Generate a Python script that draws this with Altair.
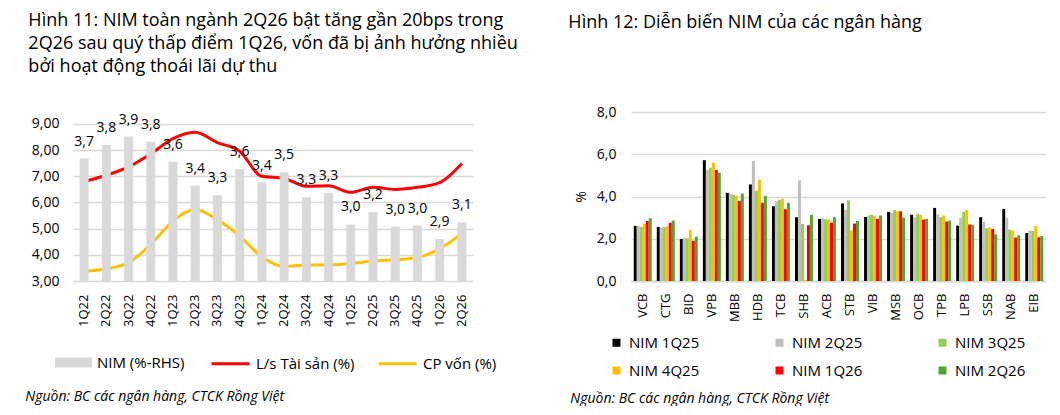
import altair as alt
import pandas as pd

FONT = "Open Sans"

# ---------- Left chart data (Hình 11) ----------
quarters = ["1Q22", "2Q22", "3Q22", "4Q22", "1Q23", "2Q23", "3Q23", "4Q23", "1Q24",
            "2Q24", "3Q24", "4Q24", "1Q25", "2Q25", "3Q25", "4Q25", "1Q26", "2Q26"]
nim_industry = [3.67, 3.80, 3.88, 3.83, 3.64, 3.41, 3.32, 3.57, 3.44,
                3.54, 3.30, 3.34, 3.04, 3.16, 3.02, 3.03, 2.90, 3.06]
asset_yield = [6.80, 7.04, 7.36, 7.86, 8.44, 8.68, 8.29, 7.96, 7.00,
               6.92, 6.62, 6.64, 6.39, 6.58, 6.50, 6.58, 6.76, 7.49]
cost_of_funds = [3.37, 3.47, 3.70, 4.40, 5.29, 5.73, 5.34, 4.72, 3.92,
                 3.56, 3.61, 3.62, 3.67, 3.76, 3.81, 3.90, 4.23, 4.82]
left_series = ["L/s Tài sản (%)", "CP vốn (%)"]
bar_label = "NIM (%-RHS)"

# ---------- Right chart data (Hình 12) ----------
banks = ["VCB", "CTG", "BID", "VPB", "MBB", "HDB", "TCB", "SHB", "ACB",
         "STB", "VIB", "MSB", "OCB", "TPB", "LPB", "SSB", "NAB", "EIB"]
series_names = ["NIM 1Q25", "NIM 2Q25", "NIM 3Q25", "NIM 4Q25", "NIM 1Q26", "NIM 2Q26"]
nim_1q25 = [2.61, 2.56, 1.99, 5.72, 4.17, 4.57, 3.54, 3.02, 2.94, 3.67, 3.03, 3.27, 3.14, 3.46, 2.62, 3.02, 3.41, 2.27]
nim_2q25 = [2.61, 2.53, 2.05, 5.26, 4.12, 5.69, 3.78, 4.77, 2.97, 3.36, 3.10, 3.24, 3.00, 3.16, 2.99, 2.81, 2.99, 2.39]
nim_3q25 = [2.56, 2.56, 2.02, 5.36, 4.08, 4.27, 3.84, 2.70, 2.92, 3.82, 3.14, 3.36, 3.18, 3.02, 3.27, 2.50, 2.43, 2.37]
nim_4q25 = [2.70, 2.59, 2.42, 5.61, 4.04, 4.79, 3.89, 0.05, 2.92, 2.40, 3.08, 3.30, 3.14, 3.10, 3.36, 2.54, 2.39, 2.61]
nim_1q26 = [2.84, 2.76, 1.90, 5.26, 3.79, 3.70, 3.40, 2.64, 2.76, 2.72, 2.94, 3.30, 2.91, 2.81, 2.67, 2.46, 2.05, 2.07]
nim_2q26 = [2.97, 2.86, 2.10, 5.12, 4.14, 4.03, 3.70, 3.13, 3.02, 2.84, 3.10, 3.00, 2.94, 2.86, 2.65, 2.21, 2.16, 2.13]
series_colors = ["#000000", "#BFBFBF", "#92D050", "#FFC000", "#FF0000", "#4EA72E"]

source_text = "Nguồn: BC các ngân hàng, CTCK Rồng Việt"
title_left = ["Hình 11: NIM toàn ngành 2Q26 bật tăng gần 20bps trong",
              "2Q26 sau quý thấp điểm 1Q26, vốn đã bị ảnh hưởng nhiều",
              "bởi hoạt động thoái lãi dự  thu"]
title_right = "Hình 12: Diễn biến NIM của các ngân hàng"

GRID = "#D9D9D9"

# ---------- Left chart ----------
left_df = pd.DataFrame({"q": quarters, "nim": nim_industry, "lbl": bar_label})
lines_df = pd.concat([
    pd.DataFrame({"q": quarters, "v": asset_yield, "s": left_series[0]}),
    pd.DataFrame({"q": quarters, "v": cost_of_funds, "s": left_series[1]}),
], ignore_index=True)

xq = alt.X("q:N", sort=quarters,
           scale=alt.Scale(paddingInner=0.6, paddingOuter=0.3),
           axis=alt.Axis(title=None, labelAngle=-90, labelFontSize=13, labelPadding=13,
                         ticks=False, domain=False, labelColor="#000", labelFont=FONT))

# plot area is 169 px tall; the top 12 px are left empty above the 9,00 / 4,00 line
yr_scale = alt.Scale(domain=[2.5, 4.1144], zero=False, nice=False)
yl_scale = alt.Scale(domain=[3, 9.458], zero=False, nice=False)

bars = alt.Chart(left_df).mark_bar(size=9).encode(
    x=xq,
    y=alt.Y("nim:Q", scale=yr_scale,
            axis=alt.Axis(orient="right", values=[2.5, 2.75, 3.0, 3.25, 3.5, 3.75, 4.0],
                          labelExpr="replace(format(datum.value, '.2f'), '.', ',')",
                          grid=False, ticks=False, domain=False, title=None,
                          labelFontSize=14, labelPadding=15, labelColor="#000", labelFont=FONT)),
    y2=alt.datum(2.5),
    fill=alt.Fill("lbl:N", scale=alt.Scale(domain=[bar_label], range=["#D9D9D9"]),
                  legend=alt.Legend(orient="none", legendX=-18, legendY=232, title=None,
                                    symbolType="M-1,-0.27H1V0.27H-1Z", symbolSize=1369,
                                    symbolStrokeWidth=0, labelFontSize=15, labelFont=FONT,
                                    labelColor="#000", labelOffset=5, padding=0)),
)

labels = alt.Chart(left_df).transform_calculate(
    t="replace(format(datum.nim, '.1f'), '.', ',')"
).mark_text(dy=-17, baseline="middle", align="center", fontSize=14, font=FONT, color="#000").encode(
    x=xq,
    y=alt.Y("nim:Q", scale=yr_scale, axis=None),
    text="t:N",
)

lines = alt.Chart(lines_df).mark_line(strokeWidth=3, interpolate="monotone").encode(
    x=xq,
    y=alt.Y("v:Q", scale=yl_scale,
            axis=alt.Axis(orient="left", values=[3, 4, 5, 6, 7, 8, 9],
                          labelExpr="replace(format(datum.value, '.2f'), '.', ',')",
                          grid=True, gridColor=GRID, gridWidth=1.3, ticks=False, domain=False,
                          title=None, labelFontSize=14, labelPadding=14, labelColor="#000",
                          labelFont=FONT)),
    stroke=alt.Stroke("s:N", sort=left_series,
                      scale=alt.Scale(domain=left_series, range=["#FF0000", "#FFC000"]),
                      legend=alt.Legend(orient="none", legendX=137, legendY=231, title=None,
                                        direction="horizontal", symbolType="stroke",
                                        symbolSize=1444, symbolStrokeWidth=3,
                                        labelFontSize=15, labelFont=FONT, labelColor="#000",
                                        labelOffset=5, columnPadding=17, padding=0)),
)

left_main = alt.layer(lines, alt.layer(bars, labels)).resolve_scale(
    y="independent"
).properties(
    width=400, height=169,
    title=alt.Title(title_left, anchor="start", frame="bounds", fontSize=18, font=FONT,
                    fontWeight="normal", lineHeight=23, offset=35.7, dx=-3, color="#000"),
)

left_panel = alt.vconcat(left_main, title=alt.Title(
    source_text, orient="bottom", anchor="start", frame="bounds", fontSize=14, font=FONT,
    fontStyle="italic", fontWeight="normal", offset=18, dx=-3, color="#000"))

# ---------- Right chart ----------
vals = [nim_1q25, nim_2q25, nim_3q25, nim_4q25, nim_1q26, nim_2q26]
right_df = pd.concat([
    pd.DataFrame({"bank": banks, "v": v, "series": s}) for s, v in zip(series_names, vals)
], ignore_index=True)

right_main = alt.Chart(right_df).mark_bar().encode(
    x=alt.X("bank:N", sort=banks, scale=alt.Scale(paddingInner=0.22, paddingOuter=0.12),
            axis=alt.Axis(title=None, labelAngle=-90, labelFontSize=13, labelPadding=12,
                          ticks=False, domain=True, domainColor=GRID, domainWidth=2,
                          labelColor="#000", labelFont=FONT)),
    xOffset=alt.XOffset("series:N", sort=series_names,
                        scale=alt.Scale(paddingInner=0, paddingOuter=0)),
    y=alt.Y("v:Q", scale=alt.Scale(domain=[0, 8], nice=False),
            axis=alt.Axis(values=[0, 2, 4, 6, 8],
                          labelExpr="replace(format(datum.value, '.1f'), '.', ',')",
                          grid=True, gridColor=GRID, gridWidth=1.3, ticks=False, domain=False,
                          title="%", titleFontWeight="normal", titleFontSize=14, titleFont=FONT,
                          titleColor="#000", titlePadding=8,
                          labelFontSize=14, labelPadding=15, labelColor="#000", labelFont=FONT)),
    color=alt.Color("series:N", sort=series_names,
                    scale=alt.Scale(domain=series_names, range=series_colors),
                    legend=alt.Legend(orient="none", legendX=-22, legendY=223, title=None,
                                      columns=3, direction="horizontal", symbolType="square",
                                      symbolSize=64, symbolStrokeWidth=0,
                                      labelFontSize=15, labelFont=FONT, labelColor="#000",
                                      labelOffset=5, columnPadding=72, rowPadding=12,
                                      padding=0)),
).properties(
    width=415, height=169,
    title=alt.Title(title_right, anchor="start", frame="bounds", fontSize=18, font=FONT,
                    fontWeight="normal", offset=72.7, dx=-6, color="#000"),
)

right_panel = alt.vconcat(right_main, title=alt.Title(
    source_text, orient="bottom", anchor="start", frame="bounds", fontSize=14, font=FONT,
    fontStyle="italic", fontWeight="normal", offset=13, dx=2, color="#000"))

chart = alt.hconcat(left_panel, right_panel, spacing=50).resolve_scale(
    color="independent", fill="independent", stroke="independent"
).resolve_legend(
    color="independent", fill="independent", stroke="independent"
).configure(
    font=FONT, padding={"left": 17, "top": 4, "right": 0, "bottom": 0}
).configure_view(stroke=None)

chart.save("out.html", embed_options={"renderer": "svg", "actions": False})
